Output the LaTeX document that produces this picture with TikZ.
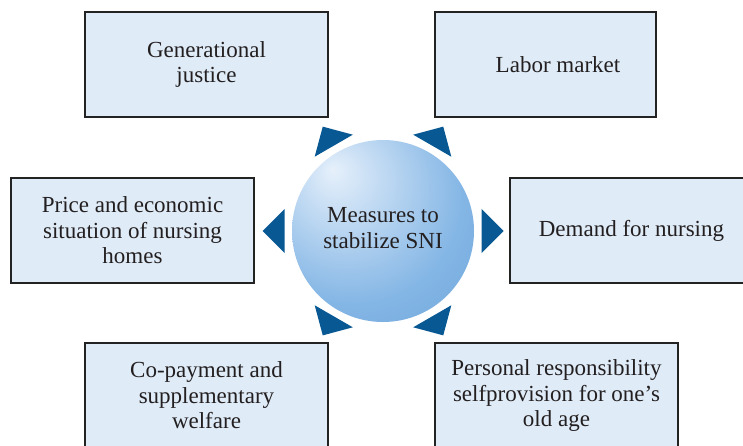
\documentclass[tikz,border=0pt]{standalone}
\usepackage{fontspec}
\setmainfont{Liberation Serif}
\usetikzlibrary{calc}
\definecolor{boxfill}{RGB}{223,235,247}
\definecolor{boxline}{RGB}{35,35,35}
\definecolor{trifill}{RGB}{8,88,148}
\definecolor{ballhi}{RGB}{230,240,251}
\definecolor{ballmid}{RGB}{132,182,229}
\definecolor{ballout}{RGB}{76,142,206}
\definecolor{txt}{RGB}{35,31,32}
\pgfdeclareradialshading{sniball}{\pgfpoint{-14bp}{17bp}}{color(0bp)=(ballhi); color(30bp)=(ballmid); color(72bp)=(ballout)}
\tikzset{
  txtfont/.style={text=txt, font=\fontsize{23}{25.5}\selectfont, align=center},
  infobox/.style={txtfont, draw=boxline, line width=1.5pt, fill=boxfill,
    minimum width=243pt, minimum height=105pt, inner sep=0pt},
  hub/.style={txtfont, circle, minimum size=182pt, inner sep=0pt, shade, shading=sniball},
  pointer/.style={fill=trifill}
}
\begin{document}
\begin{tikzpicture}[x=1pt,y=-1pt]
\useasboundingbox (0,0) rectangle (743,446);
\fill[white] (0,0) rectangle (743,446);
\clip (0,0) rectangle (743,446);
\node[infobox] (gj) at (206.5,64.5) {Generational\\justice};
\node[infobox, minimum width=221pt] (lm) at (545.5,64.5) {};
\node[txtfont] (lmt) at (558,64.5) {Labor market};
\node[infobox] (pe) at (132.5,230.5) {Price and economic\\situation of nursing\\homes};
\node[infobox] (dn) at (631.5,230.5) {Demand for nursing};
\node[infobox] (cp) at (206.5,395.5) {Co-payment and\\supplementary\\welfare};
\node[infobox] (pr) at (556.5,395.5) {Personal responsibility\\selfprovision for one’s\\old age};
\node[hub] (c) at (383,231) {};
\node[txtfont] (ct) at (383,228) {Measures to\\stabilize SNI};
\foreach \a in {0,60,...,300}{
  \fill[pointer] ($(c.center)+(\a:98.5)+(\a+90:22)$) -- ($(c.center)+(\a:120.5)$) -- ($(c.center)+(\a:98.5)+(\a-90:22)$) -- cycle;
}
\end{tikzpicture}
\end{document}
